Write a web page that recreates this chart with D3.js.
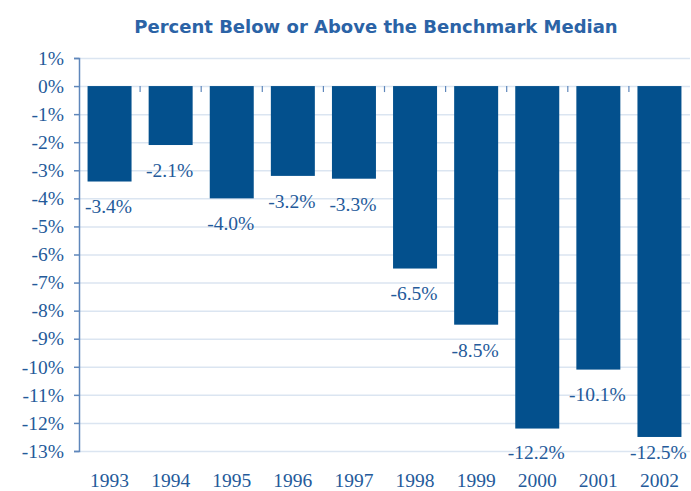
<!DOCTYPE html>
<html><head><meta charset="utf-8">
<script src="https://cdn.jsdelivr.net/npm/d3@7"></script>
<style>body{margin:0;background:#fff;} svg{display:block;}</style>
</head><body>
<script>
const years = ["1993","1994","1995","1996","1997","1998","1999","2000","2001","2002"];
const values = [-3.4,-2.1,-4.0,-3.2,-3.3,-6.5,-8.5,-12.2,-10.1,-12.5];
const valueLabels = ["-3.4%","-2.1%","-4.0%","-3.2%","-3.3%","-6.5%","-8.5%","-12.2%","-10.1%","-12.5%"];
const yTicks = [1,0,-1,-2,-3,-4,-5,-6,-7,-8,-9,-10,-11,-12,-13];
const title = "Percent Below or Above the Benchmark Median";

const W=691,H=491;
const svg=d3.select("body").append("svg").attr("width",W).attr("height",H);
const x=d3.scaleBand().domain(years).range([79,690]).paddingInner(0.28).paddingOuter(0.14);
const y=d3.scaleLinear().domain([1,-13]).range([58,451]);
const axisCol="#5f87bb", textCol="#245a9a", barCol="#03508d", gridCol="#dbe5f1";
const serif="'Liberation Serif','DejaVu Serif',serif";

svg.append("text").attr("x",376).attr("y",33).attr("text-anchor","middle")
  .attr("font-family","'DejaVu Sans',sans-serif").attr("font-weight","bold").attr("font-size",18)
  .attr("fill","#2b63a6").text(title);

// gridlines
svg.append("g").selectAll("line").data(yTicks).join("line")
  .attr("x1",79).attr("x2",690).attr("y1",d=>y(d)+0.5).attr("y2",d=>y(d)+0.5)
  .attr("stroke",gridCol).attr("stroke-width",1.5);

// bars
svg.append("g").selectAll("rect").data(values).join("rect")
  .attr("x",(d,i)=>x(years[i])).attr("width",x.bandwidth())
  .attr("y",y(0)).attr("height",d=>y(d)-y(0)).attr("fill",barCol);

// x tick marks at band boundaries hanging from 0 line
const bounds = years.slice(1).map(yr=>x(yr)-x.step()*x.paddingInner()/2);
svg.append("g").selectAll("line").data(bounds).join("line")
  .attr("x1",d=>d).attr("x2",d=>d).attr("y1",y(0)).attr("y2",y(0)+6)
  .attr("stroke",axisCol).attr("stroke-width",1.2);

// y axis
const yAxis=d3.axisLeft(y).tickValues(yTicks).tickFormat(d=>d+"%").tickSize(5).tickPadding(10);
const ga=svg.append("g").attr("transform","translate(79,0)").call(yAxis);
ga.select(".domain").attr("stroke",axisCol).attr("stroke-width",1.5);
ga.selectAll(".tick line").attr("stroke",axisCol).attr("stroke-width",1.5);
ga.selectAll("text").attr("font-family",serif).attr("font-size",19.5).attr("fill",textCol);

// value labels
svg.append("g").selectAll("text").data(values).join("text")
  .attr("x",(d,i)=>x(years[i])+x.bandwidth()/2-1)
  .attr("y",d=>Math.min(y(d)+25,452)).attr("dy","0.35em")
  .attr("text-anchor","middle").attr("font-family",serif).attr("font-size",19.5)
  .attr("fill",textCol).text((d,i)=>valueLabels[i]);

// x axis labels
svg.append("g").selectAll("text").data(years).join("text")
  .attr("x",d=>x(d)+x.bandwidth()/2).attr("y",480).attr("dy","0.35em")
  .attr("text-anchor","middle").attr("font-family",serif).attr("font-size",19.5)
  .attr("fill",textCol).text(d=>d);
</script>
</body></html>
